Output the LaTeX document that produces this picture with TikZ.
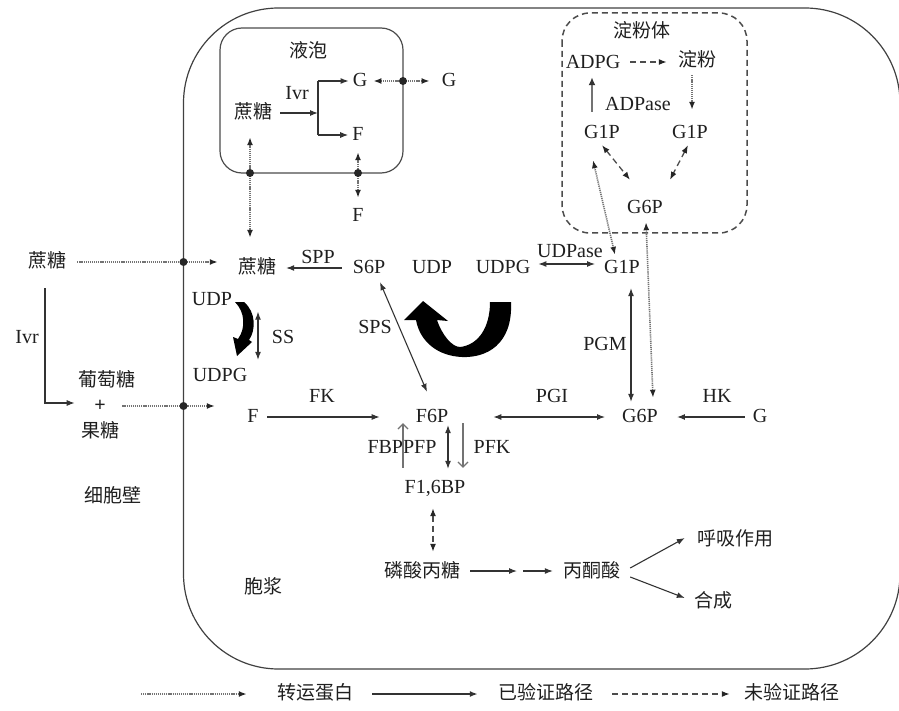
\documentclass[tikz,border=0pt]{standalone}
\usepackage{fontspec}
\setmainfont{Liberation Serif}
\newfontfamily\zhfont{Noto Sans CJK SC}
\usetikzlibrary{arrows.meta}
\begin{document}
\begin{tikzpicture}[x=1pt,y=-1pt,
  lbl/.style={inner sep=0pt, text height=14pt, text depth=3pt, text=black!88, font=\fontsize{20}{24}\selectfont},
  zh/.style={lbl, font=\zhfont\fontsize{19}{23}\selectfont},
  arr/.style={draw=black!80, line width=1.1pt, -{Latex[length=8pt,width=6pt]}},
  darr/.style={draw=black!80, line width=1.1pt, {Latex[length=8pt,width=6pt]}-{Latex[length=8pt,width=6pt]}},
  dotl/.style={draw=black!55, line width=1.6pt, dash pattern=on 1.2pt off 0.9pt},
  dotarr/.style={dotl, -{Latex[length=8pt,width=6pt,color=black!85]}},
  dotdarr/.style={dotl, {Latex[length=8pt,width=6pt,color=black!85]}-{Latex[length=8pt,width=6pt,color=black!85]}},
  dsh/.style={draw=black!70, line width=1.3pt, dash pattern=on 6pt off 4pt},
  dsharr/.style={dsh, -{Latex[length=8pt,width=6pt,color=black!85]}},
  dshdarr/.style={dsh, {Latex[length=8pt,width=6pt,color=black!85]}-{Latex[length=8pt,width=6pt,color=black!85]}},
  grayarr/.style={draw=black!55, line width=1.2pt, -{Straight Barb[length=5pt,width=10pt]}},
  grayarrb/.style={draw=black!55, line width=1.8pt, -{Latex[length=8pt,width=7pt,color=black!80]}},
  dotpt/.style={fill=black!85},
  curly/.style={fill=black}
]
\useasboundingbox (0,0) rectangle (899,711);

% compartments
\draw[line width=1.2pt, draw=black!75, rounded corners=95pt] (183.5,8) rectangle (900,669);
\draw[line width=1.2pt, draw=black!70, rounded corners=22pt] (220,28) rectangle (403,173);
\draw[dsh, line width=1.5pt, rounded corners=28pt] (562,13) rectangle (747,233);

% nodes
\node[zh] (vac) at (308,52) {液泡};
\node[zh] (ztv) at (253,113) {蔗糖};
\node[lbl] (ivrv) at (297,94) {Ivr};
\node[lbl] (gv) at (360,81) {G};
\node[lbl] (fv) at (358,135) {F};
\node[lbl] (go) at (449,81) {G};
\node[lbl] (fo) at (358,216) {F};
\node[zh] (amy) at (642,32) {淀粉体};
\node[lbl] (adpg) at (593,63) {ADPG};
\node[zh] (df) at (697,61) {淀粉};
\node[lbl] (adpase) at (638,105) {ADPase};
\node[lbl] (gpa) at (602,133) {G1P};
\node[lbl] (gpb) at (690,133) {G1P};
\node[lbl] (gsa) at (645,208) {G6P};
\node[zh] (ztout) at (47,262) {蔗糖};
\node[lbl] (ivro) at (27,338) {Ivr};
\node[zh] (ptt) at (107,381) {葡萄糖};
\node[lbl, font=\bfseries\fontsize{20}{24}\selectfont] (plus) at (100,406) {+};
\node[zh] (gt) at (100,432) {果糖};
\node[zh] (xbb) at (113,497) {细胞壁};
\node[zh] (ztc) at (257,268) {蔗糖};
\node[lbl] (spp) at (318,258) {SPP};
\node[lbl] (s6p) at (369,268) {S6P};
\node[lbl] (udpa) at (432,268) {UDP};
\node[lbl] (udpga) at (503,268) {UDPG};
\node[lbl] (udpase) at (570,252) {UDPase};
\node[lbl] (gpc) at (622,268) {G1P};
\node[lbl] (udpb) at (212,300) {UDP};
\node[lbl] (udpgb) at (220,376) {UDPG};
\node[lbl] (ss) at (283,338) {SS};
\node[lbl] (sps) at (375,328) {SPS};
\node[lbl] (fc) at (253,417) {F};
\node[lbl] (fk) at (322,397) {FK};
\node[lbl] (f6p) at (432,417) {F6P};
\node[lbl] (pgi) at (552,397) {PGI};
\node[lbl] (gsc) at (640,417) {G6P};
\node[lbl] (hk) at (717,397) {HK};
\node[lbl] (gc) at (760,417) {G};
\node[lbl] (pgm) at (605,345) {PGM};
\node[lbl] (fbp) at (402,448) {FBPPFP};
\node[lbl] (pfk) at (492,448) {PFK};
\node[lbl] (f16) at (435,488) {F1,6BP};
\node[zh] (lsbt) at (422,572) {磷酸丙糖};
\node[zh] (btx) at (592,572) {丙酮酸};
\node[zh] (hxzy) at (735,540) {呼吸作用};
\node[zh] (hc) at (713,602) {合成};
\node[zh] (bj) at (263,588) {胞浆};
\node[zh] (lega) at (315,694) {转运蛋白};
\node[zh] (legb) at (546,694) {已验证路径};
\node[zh] (legc) at (792,694) {未验证路径};

% vacuole invertase
\coordinate (br) at (318,113);
\draw[arr, shorten <=8] (ztv) -- (br);
\draw[line width=1.1pt, draw=black!80] (br |- gv) -- (br |- fv);
\draw[arr, shorten >=4] (br |- gv) -- (gv);
\draw[arr, shorten >=4] (br |- fv) -- (fv);

% vacuole transporters
\draw[dotdarr, shorten <=6, shorten >=12] (gv) -- (go);
\fill[dotpt] (403,81) circle (4);
\draw[dotdarr, shorten <=8.5, shorten >=9.5] (fv) -- (fo);
\fill[dotpt] (358,173) circle (4);
\draw[dotdarr] ([xshift=-3,yshift=-15.5]ztv.south) -- ([xshift=-7,yshift=21.5]ztc.north);
\fill[dotpt] (250,173) circle (4);

% outside
\draw[dotarr, shorten <=11, shorten >=20] (ztout.east) -- (ztout.east -| ztc.west);
\fill[dotpt] (183.5,262) circle (4);
\draw[arr, shorten <=17.5, shorten >=19.4] ([xshift=-2]ztout.south) |- ([yshift=3]plus.west);
\draw[dotarr, shorten <=16.4, shorten >=32.4] (plus.east) -- (plus.east -| fc.west);
\fill[dotpt] (183.5,406) circle (4);

% cytosol
\draw[arr, shorten <=11, shorten >=10] (s6p) -- (ztc);
\draw[darr, shorten <=8, shorten >=9] ([yshift=4]udpga.east) -- ([yshift=4]gpc.west);
\draw[darr] ([xshift=11,yshift=-5.5]s6p.south) -- ([xshift=-5,yshift=16.5]f6p.north);
\draw[arr, shorten <=8.4, shorten >=36] (fc) -- (f6p);
\draw[darr, shorten <=45, shorten >=17] (f6p) -- (gsc);
\draw[arr, shorten <=8, shorten >=19] (gc) -- (gsc);
\draw[darr] ([xshift=9,yshift=-11.5]gpc.south) -- ([xshift=-9,yshift=6.5]gsc.north);
\draw[dotdarr] ([xshift=-9,yshift=-18.5]gpa.south) -- ([xshift=-7,yshift=4.5]gpc.north);
\draw[dotdarr] ([xshift=1,yshift=-5.5]gsa.south) -- ([xshift=13,yshift=10.5]gsc.north);

% SS double arrow
\draw[darr] ([xshift=46,yshift=-3]udpb.south) -- ([xshift=38,yshift=7.5]udpgb.north);

% amyloplast
\draw[grayarrb] ([xshift=-10,yshift=12.5]gpa.north) -- ([xshift=-1,yshift=-5.5]adpg.south);
\draw[dsharr, shorten <=10, shorten >=11] ([yshift=1]adpg.east) -- ([yshift=1]adpg.east -| df.west);
\draw[dotarr] ([xshift=-5,yshift=-5.5]df.south) -- ([xshift=2,yshift=14.5]gpb.north);
\draw[dshdarr] ([yshift=-3.5]gpa.south) -- ([xshift=-15,yshift=19.5]gsa.north);
\draw[dshdarr] ([xshift=-2,yshift=-3.5]gpb.south) -- ([xshift=25,yshift=19.5]gsa.north);

% F6P / F1,6BP
\draw[grayarr] ([xshift=-32,yshift=11.5]f16.north) -- ([xshift=-29,yshift=2.5]f6p.south);
\draw[darr] ([xshift=16,yshift=0.5]f6p.south) -- ([xshift=13,yshift=10.5]f16.north);
\draw[grayarr] ([xshift=31,yshift=2.5]f6p.south) -- ([xshift=28,yshift=11.5]f16.north);
\draw[dshdarr] ([xshift=-2,yshift=-11.5]f16.south) -- ([xshift=11,yshift=11.5]lsbt.north);

% glycolysis
\coordinate (mid) at (520,571);
\draw[arr, shorten <=10, shorten >=3] (lsbt.east |- mid) -- (mid);
\draw[arr, shorten <=3, shorten >=10.5] (mid) -- (mid -| btx.west);
\draw[arr] ([xshift=9.5,yshift=4]btx.east) -- ([xshift=-12,yshift=2]hxzy.west);
\draw[arr] ([xshift=9.5,yshift=-5]btx.east) -- ([xshift=-9,yshift=4]hc.west);

% small curled arrow UDP -> UDPG
\fill[curly] (235,302) -- (244,302)
  .. controls (256,312) and (256,330) .. (249,340)
  -- (252,342) -- (237,356) -- (233,337) -- (238,339)
  .. controls (246,328) and (245,312) .. cycle;

% big curled arrow UDPG -> UDP
\fill[curly] (490,302) -- (511,302)
  .. controls (513,345) and (486,358) .. (462,357)
  .. controls (438,356) and (420,342) .. (416,320)
  -- (404,320) -- (423,301) -- (448,321) -- (437,320)
  .. controls (442,335) and (452,347) .. (460,347)
  .. controls (478,345) and (490,328) .. cycle;

% legend
\coordinate (ls) at (141,694);
\draw[dotarr, shorten >=30] (ls) -- (lega.west);
\draw[arr, line width=1.6pt, shorten <=19, shorten >=20.5] (lega.east) -- (legb.west);
\draw[dsharr, shorten <=18.5, shorten >=14.5] (legb.east) -- (legc.west);
\end{tikzpicture}
\end{document}
